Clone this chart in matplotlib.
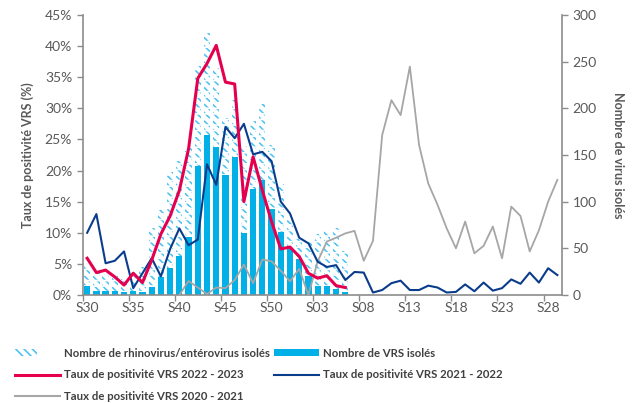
import numpy as np
import matplotlib
matplotlib.use("Agg")
import matplotlib.pyplot as plt
from matplotlib.patches import Patch
from matplotlib.lines import Line2D
from matplotlib.ticker import FuncFormatter
from matplotlib.legend_handler import HandlerTuple

plt.rcParams['font.family'] = ['Lato', 'DejaVu Sans']
plt.rcParams['hatch.linewidth'] = 1.2

# Weeks S30 .. S52, S01 .. S29
weeks = [f"S{w:02d}" for w in list(range(30, 53)) + list(range(1, 30))]

# Counts (right axis), season 2022-2023 (S30 .. S06)
vrs_counts = [10, 4, 4, 4, 3, 4, 3, 9, 19, 29, 42, 62, 138, 171, 158, 129, 148, 66,
              114, 123, 92, 68, 49, 39, 20, 10, 10, 6, 3]
rhino_counts = [31, 25, 23, 21, 17, 20, 30, 72, 91, 132, 143, 159, 245, 281, 243, 190, 209,
                160, 186, 205, 161, 119, 80, 60, 58, 65, 69, 72, 47]

# Positivity rates (%)
rate_2022_2023 = [5.9, 3.6, 4.0, 2.9, 1.6, 3.5, 2.0, 5.6, 9.8, 12.7, 16.8, 23.5, 34.8, 37.2,
                  40.1, 34.2, 33.9, 15.0, 22.2, 16.8, 11.8, 7.4, 7.7, 6.2, 3.5, 2.7, 3.1, 1.5, 1.2]
rate_2021_2022 = [10.0, 13.0, 5.1, 5.5, 7.0, 1.1, 3.5, 5.9, 3.0, 7.4, 10.7, 8.0, 8.9, 21.0,
                  17.7, 27.0, 25.2, 27.5, 22.6, 23.0, 21.5, 15.0, 13.1, 9.2, 8.3, 5.35, 4.5,
                  4.8, 2.4, 3.7, 3.6, 0.4, 0.8, 1.9, 2.3, 0.8, 0.8, 1.5, 1.2, 0.4, 0.5, 1.7,
                  0.6, 2.0, 0.7, 1.1, 2.5, 1.8, 3.6, 2.0, 4.3, 3.2]
rate_2020_2021 = [None] * 10 + [0.0, 2.25, 1.2, 0.15, 1.2, 1.1, 2.4, 4.9, 1.9, 5.7, 5.4, 3.9,
                  2.2, 4.2, 0.0, 5.4, 8.6, 9.2, 9.9, 10.3, 5.5, 8.7, 25.7, 31.3, 28.9, 36.7,
                  24.1, 17.9, 14.5, 10.7, 7.5, 11.8, 6.7, 7.9, 11.0, 5.9, 14.2, 12.7, 7.0,
                  10.4, 15.0, 18.5]

col_bar = '#00B0E6'
col_hatch = '#4FC3F0'
col_red = '#E5004F'
col_blue = '#0A3C8C'
col_gray = '#A6A6A6'
col_axis = '#8C8C8C'
col_text = '#595959'

HATCH_DIAG = '\\\\\\\\'
HATCH_CUT = '---'

fig = plt.figure(figsize=(6.35, 4.03), dpi=100)
ax = fig.add_axes([0.130, 0.268, 0.755, 0.695])
ax2 = ax.twinx()

x = np.arange(len(weeks))
nb = len(vrs_counts)
bw = 0.68

ax2.bar(x[:nb], rhino_counts, width=bw, facecolor='none', edgecolor=col_hatch,
        linewidth=0, hatch=HATCH_DIAG, zorder=1)
ax2.bar(x[:nb], rhino_counts, width=bw, facecolor='none', edgecolor='white',
        linewidth=0, hatch=HATCH_CUT, zorder=1.5)
ax2.bar(x[:nb], vrs_counts, width=bw, color=col_bar, linewidth=0, zorder=2)

def arr(v):
    return np.array([np.nan if a is None else a for a in v], dtype=float)

ax.plot(x, arr(rate_2020_2021), color=col_gray, lw=1.3, zorder=3)
ax.plot(x, arr(rate_2021_2022), color=col_blue, lw=1.5, zorder=4)
ax.plot(x[:len(rate_2022_2023)], arr(rate_2022_2023), color=col_red, lw=2.2, zorder=5)

ax.set_zorder(ax2.get_zorder() + 1)
ax.patch.set_visible(False)

ax.set_xlim(-0.5, len(weeks) - 0.5)
ax.set_ylim(0, 45)
ax2.set_ylim(0, 300)
ax.set_yticks(np.arange(0, 46, 5))
ax.yaxis.set_major_formatter(FuncFormatter(lambda v, p: f"{int(v)}%"))
ax2.set_yticks(np.arange(0, 301, 50))

# x ticks: marks at boundaries, labels at centers
ax.set_xticks(np.arange(0, len(weeks) + 1, 5) - 0.5)
ax.set_xticklabels([])
ax.set_xticks(x[::5], minor=True)
ax.set_xticklabels(weeks[::5], minor=True)
ax.tick_params(axis='x', which='major', length=4, color=col_axis, width=1)
ax.tick_params(axis='x', which='minor', length=0, labelsize=10, labelcolor=col_text, pad=5)
ax.tick_params(axis='y', length=4, color=col_axis, width=1, labelsize=10, labelcolor=col_text)
ax2.tick_params(axis='y', length=4, color=col_axis, width=1, labelsize=10, labelcolor=col_text)

for a in (ax, ax2):
    a.spines['top'].set_visible(False)
    for s in ('left', 'right', 'bottom'):
        a.spines[s].set_color(col_axis)
        a.spines[s].set_linewidth(1.2)
ax.spines['right'].set_visible(False)
ax2.spines['left'].set_visible(False)
ax2.spines['bottom'].set_visible(False)

ax.set_ylabel('Taux de positivité VRS (%)', fontsize=9, fontweight='bold', color=col_text, labelpad=8)
ax2.set_ylabel('Nombre de virus isolés', fontsize=9, fontweight='bold', color=col_text,
               rotation=-90, labelpad=20)

hatch_handle = (Patch(facecolor='none', edgecolor=col_hatch, hatch=HATCH_DIAG, linewidth=0),
                Patch(facecolor='none', edgecolor='white', hatch=HATCH_CUT, linewidth=0))
handles = [
    hatch_handle,
    Line2D([], [], color=col_red, lw=2.2),
    Line2D([], [], color=col_gray, lw=1.5),
    Patch(facecolor=col_bar, linewidth=0),
    Line2D([], [], color=col_blue, lw=1.5),
]
labels = [
    'Nombre de rhinovirus/entérovirus isolés',
    'Taux de positivité VRS 2022 - 2023',
    'Taux de positivité VRS 2020 - 2021',
    'Nombre de VRS isolés',
    'Taux de positivité VRS 2021 - 2022',
]
leg = fig.legend(handles, labels, loc='upper left', bbox_to_anchor=(0.007, 0.163), ncol=2,
                 frameon=False, fontsize=8.2, handlelength=4.0, handleheight=0.55,
                 columnspacing=0.3, labelspacing=0.95, handletextpad=0.35,
                 handler_map={tuple: HandlerTuple(ndivide=None, pad=0)})
for t in leg.get_texts():
    t.set_color('#404040')
    t.set_fontweight('bold')

fig.savefig('out.png', dpi=100)
